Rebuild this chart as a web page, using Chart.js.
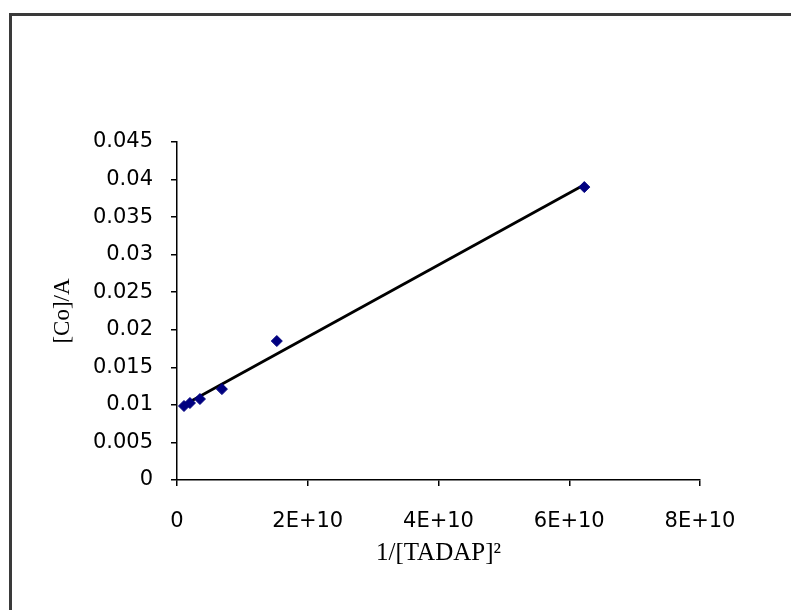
<!DOCTYPE html>
<html>
<head>
<meta charset="utf-8">
<title>[Co]/A vs 1/[TADAP]²</title>
<script src="https://cdn.jsdelivr.net/npm/chart.js@4/dist/chart.umd.min.js"></script>
<style>
  html, body { margin: 0; padding: 0; background: #fff; overflow: hidden; }
  canvas { display: block; }
</style>
</head>
<body>
<canvas id="plot" width="791" height="610"></canvas>
<script>
// measured points
const invTadapSq = [1.07e9, 1.98e9, 3.51e9, 6.87e9, 1.527e10, 6.23e10];
const coOverA = [0.00985, 0.01025, 0.01078, 0.0121, 0.0185, 0.039];

// axis ranges
const xTicks = [0, 2e10, 4e10, 6e10, 8e10];
const yTicks = [0, 0.005, 0.01, 0.015, 0.02, 0.025, 0.03, 0.035, 0.04, 0.045];

// least squares line through the measurements
function linearFit(xs, ys) {
  const n = xs.length;
  const mx = xs.reduce((a, b) => a + b, 0) / n;
  const my = ys.reduce((a, b) => a + b, 0) / n;
  let sxy = 0, sxx = 0;
  for (let i = 0; i < n; i++) {
    sxy += (xs[i] - mx) * (ys[i] - my);
    sxx += (xs[i] - mx) * (xs[i] - mx);
  }
  const slope = sxy / sxx;
  return { slope, intercept: my - slope * mx };
}

const fit = linearFit(invTadapSq, coOverA);
const xLo = Math.min(...invTadapSq);
const xHi = Math.max(...invTadapSq);
const fitLine = [xLo, xHi].map(x => ({ x, y: fit.intercept + fit.slope * x }));

// outer frame around the whole chart
const frame = {
  id: 'frame',
  beforeDraw(chart) {
    const ctx = chart.ctx;
    ctx.save();
    ctx.strokeStyle = '#3a3a3a';
    ctx.lineWidth = 3;
    ctx.strokeRect(10.5, 14.5, 820, 640);
    ctx.restore();
  }
};

const serif = '"Liberation Serif", "Times New Roman", serif';

Chart.defaults.font.family = '"DejaVu Sans", sans-serif';
Chart.defaults.font.size = 21;
Chart.defaults.color = '#000';

new Chart(document.getElementById('plot'), {
  type: 'scatter',
  data: {
    datasets: [
      {
        label: 'trend',
        type: 'line',
        data: fitLine,
        borderColor: '#000',
        borderWidth: 2.8,
        pointRadius: 0,
        fill: false,
        order: 2
      },
      {
        label: '[Co]/A',
        data: invTadapSq.map((x, i) => ({ x, y: coOverA[i] })),
        pointStyle: 'rectRot',
        pointRadius: 5.5,
        backgroundColor: '#000080',
        borderColor: '#000080',
        borderWidth: 1,
        order: 1
      }
    ]
  },
  options: {
    responsive: false,
    animation: false,
    layout: { padding: { left: 0, top: 142, right: 91, bottom: 0 } },
    plugins: { legend: { display: false }, tooltip: { enabled: false } },
    scales: {
      x: {
        type: 'linear',
        min: xTicks[0],
        max: xTicks[xTicks.length - 1],
        afterBuildTicks: s => { s.ticks = xTicks.map(v => ({ value: v })); },
        afterFit: s => { s.height = 130; },
        border: { display: true, color: '#000', width: 1.5 },
        grid: { drawOnChartArea: false, drawTicks: true, tickLength: 6, color: '#000', lineWidth: 1.5 },
        ticks: {
          padding: 23,
          maxRotation: 0,
          callback: v => v === 0 ? '0' : v.toExponential(0).toUpperCase()
        },
        title: {
          display: true,
          text: '1/[TADAP]²',
          font: { family: serif, size: 25 },
          padding: { top: 42, bottom: 42 }
        }
      },
      y: {
        type: 'linear',
        min: yTicks[0],
        max: yTicks[yTicks.length - 1],
        afterBuildTicks: s => { s.ticks = yTicks.map(v => ({ value: v })); },
        afterFit: s => { s.width = 177; },
        border: { display: true, color: '#000', width: 1.5 },
        grid: { drawOnChartArea: false, drawTicks: true, tickLength: 6, color: '#000', lineWidth: 1.5 },
        ticks: {
          padding: 18,
          callback: v => String(+v.toFixed(3))
        },
        title: {
          display: true,
          text: '[Co]/A',
          font: { family: serif, size: 23 },
          padding: { top: 49, bottom: 49 }
        }
      }
    }
  },
  plugins: [frame]
});
</script>
</body>
</html>
